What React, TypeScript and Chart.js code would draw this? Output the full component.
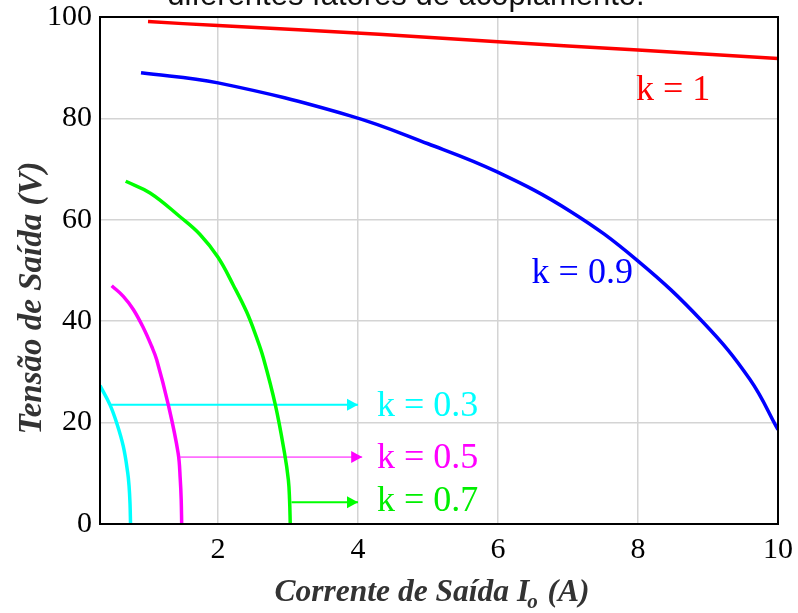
import React, { useEffect, useRef } from "react";
import { Chart, registerables } from "chart.js";
Chart.register(...registerables);

// k = 1
const k1X = [1.0, 2.0, 4.3, 6.0, 8.0, 10.0];
const k1Y = [99.1, 98.3, 96.6, 95.1, 93.5, 91.8];
// k = 0.9
const k09X = [0.9, 2.0, 3.89, 5.0, 5.98, 7.03, 7.98, 8.93, 9.6, 10.0];
const k09Y = [89.0, 87.0, 80.5, 75.0, 69.5, 61.7, 52.1, 39.8, 28.5, 18.6];
// k = 0.7
const k07X = [0.681, 1.029, 1.457, 1.743, 2.0, 2.219, 2.41, 2.553, 2.647, 2.819, 2.95, 3.005, 3.022, 3.032];
const k07Y = [67.6, 65.3, 60.6, 57.1, 52.6, 47.1, 41.8, 36.7, 32.8, 23.5, 14.0, 8.7, 4.8, 0];
// k = 0.5
const k05X = [0.481, 0.647, 0.79, 0.933, 1.053, 1.124, 1.29, 1.43, 1.461, 1.474, 1.481];
const k05Y = [47.0, 44.9, 42.3, 38.7, 35.0, 32.4, 23.5, 14.0, 8.7, 4.8, 0];
// k = 0.3
const k03X = [0.314, 0.457, 0.553, 0.647, 0.71, 0.729, 0.743, 0.75];
const k03Y = [27.3, 23.5, 19.9, 15.3, 10.1, 7.5, 4.0, 0];

// arrows [x0, x1], y
const arrow03 = { x: [0.46, 4.0], y: 23.5 };
const arrow05 = { x: [1.46, 4.06], y: 13.2 };
const arrow07 = { x: [3.05, 4.0], y: 4.3 };

const xTicks = [2, 4, 6, 8, 10];
const X_MIN = 0.314;
const X_MAX = 10;
const Y_MIN = 0;
const Y_MAX = 100;

const labels = [
  { text: "k = 1", x: 7.97, y: 83.7, color: "#ff0000" },
  { text: "k = 0.9", x: 6.48, y: 47.5, color: "#0000ff" },
  { text: "k = 0.3", x: 4.27, y: 21.4, color: "#00ffff" },
  { text: "k = 0.5", x: 4.27, y: 11.0, color: "#ff00ff" },
  { text: "k = 0.7", x: 4.27, y: 2.5, color: "#00ee00" },
];

const TITLE = "diferentes fatores de acoplamento.";
const Y_TITLE = "Tensão de Saída (V)";
const X_TITLE_A = "Corrente de Saída I";
const X_TITLE_SUB = "o";
const X_TITLE_B = " (A)";

const SERIF = "'Liberation Serif', 'DejaVu Serif', serif";
const SANS = "'Liberation Sans', Arial, sans-serif";

function pts(xs: number[], ys: number[]) {
  return xs.map((x, i) => ({ x, y: ys[i] }));
}

const curve = (data: any, color: string) => ({
  data,
  borderColor: color,
  borderWidth: 3.5,
  pointRadius: 0,
  tension: 0.4,
  fill: false,
});

const arrowDs = (a: { x: number[]; y: number }, color: string, w: number) => ({
  data: a.x.map((x) => ({ x, y: a.y })),
  borderColor: color,
  backgroundColor: color,
  borderWidth: w,
  pointRadius: 0,
  tension: 0,
  fill: false,
  arrow: true,
});

const decorPlugin = {
  id: "decor",
  afterDatasetsDraw(chart: any) {
    const { ctx, chartArea: ca, scales } = chart;
    const xs = scales.x;
    const ys = scales.y;
    ctx.save();
    // arrowheads
    chart.data.datasets.forEach((ds: any, i: number) => {
      if (!ds.arrow) return;
      const meta = chart.getDatasetMeta(i);
      const last = meta.data[meta.data.length - 1];
      const tx = last.x;
      const ty = last.y;
      const L = 11;
      const H = 6;
      ctx.fillStyle = ds.borderColor;
      ctx.beginPath();
      ctx.moveTo(tx, ty);
      ctx.lineTo(tx - L, ty - H);
      ctx.lineTo(tx - L, ty + H);
      ctx.closePath();
      ctx.fill();
    });
    // box
    ctx.strokeStyle = "#000";
    ctx.lineWidth = 2;
    ctx.strokeRect(ca.left, ca.top, ca.right - ca.left, ca.bottom - ca.top);
    // labels
    ctx.font = `36px ${SERIF}`;
    ctx.textAlign = "left";
    ctx.textBaseline = "alphabetic";
    labels.forEach((l) => {
      ctx.fillStyle = l.color;
      ctx.fillText(l.text, xs.getPixelForValue(l.x), ys.getPixelForValue(l.y));
    });
    ctx.restore();
  },
  afterDraw(chart: any) {
    const { ctx } = chart;
    ctx.save();
    // top title (cropped)
    ctx.fillStyle = "#111";
    ctx.font = `31px ${SANS}`;
    ctx.textAlign = "center";
    ctx.textBaseline = "alphabetic";
    ctx.fillText(TITLE, 406, 5);
    // y title
    ctx.fillStyle = "#333";
    ctx.font = `bold italic 33px ${SERIF}`;
    ctx.translate(41, 298);
    ctx.rotate(-Math.PI / 2);
    ctx.textAlign = "center";
    ctx.fillText(Y_TITLE, 0, 0);
    ctx.restore();
    // x title
    ctx.save();
    ctx.fillStyle = "#333";
    const mainFont = `bold italic 31.5px ${SERIF}`;
    const subFont = `bold italic 21px ${SERIF}`;
    ctx.font = mainFont;
    const wa = ctx.measureText(X_TITLE_A).width;
    const wb = ctx.measureText(X_TITLE_B).width;
    ctx.font = subFont;
    const ws = ctx.measureText(X_TITLE_SUB).width;
    const total = wa + ws + wb;
    const cx = 432;
    const by = 601;
    let x = cx - total / 2;
    ctx.textAlign = "left";
    ctx.textBaseline = "alphabetic";
    ctx.font = mainFont;
    ctx.fillText(X_TITLE_A, x, by);
    x += wa;
    ctx.font = subFont;
    ctx.fillText(X_TITLE_SUB, x - 2, by + 7);
    x += ws;
    ctx.font = mainFont;
    ctx.fillText(X_TITLE_B, x, by);
    ctx.restore();
  },
};

export default function App() {
  const ref = useRef<HTMLCanvasElement | null>(null);
  useEffect(() => {
    document.body.style.margin = "0";
    const canvas = ref.current!;
    const chart = new Chart(canvas, {
      type: "line",
      data: {
        datasets: [
          curve(pts(k1X, k1Y), "#ff0000"),
          curve(pts(k09X, k09Y), "#0000ff"),
          curve(pts(k07X, k07Y), "#00ff00"),
          curve(pts(k05X, k05Y), "#ff00ff"),
          curve(pts(k03X, k03Y), "#00ffff"),
          arrowDs(arrow03, "#00ffff", 2),
          arrowDs(arrow05, "#ff00ff", 1),
          arrowDs(arrow07, "#00ff00", 2),
        ] as any,
      },
      options: {
        animation: false,
        responsive: false,
        maintainAspectRatio: false,
        layout: { padding: { top: 17, right: 20, left: 0, bottom: 0 } },
        plugins: {
          legend: { display: false },
          tooltip: { enabled: false },
          title: { display: false },
        },
        scales: {
          x: {
            type: "linear",
            min: X_MIN,
            max: X_MAX,
            afterBuildTicks: (s: any) => {
              s.ticks = xTicks.map((v) => ({ value: v }));
            },
            afterFit: (s: any) => {
              s.height = 89;
              s.paddingLeft = 0;
              s.paddingRight = 0;
            },
            grid: { color: "#d4d4d4", lineWidth: 1.5, drawTicks: false },
            border: { color: "#000", width: 2 },
            ticks: {
              color: "#000",
              font: { family: SERIF, size: 30 },
              padding: 8,
              maxRotation: 0,
              autoSkip: false,
            },
          },
          y: {
            type: "linear",
            min: Y_MIN,
            max: Y_MAX,
            afterFit: (s: any) => {
              s.width = 100;
              s.paddingTop = 0;
              s.paddingBottom = 0;
            },
            grid: { color: "#d4d4d4", lineWidth: 1.5, drawTicks: false },
            border: { color: "#000", width: 2 },
            ticks: {
              stepSize: 20,
              color: "#000",
              font: { family: SERIF, size: 30 },
              padding: 8,
            },
          },
        },
      },
      plugins: [decorPlugin],
    });
    return () => chart.destroy();
  }, []);
  return (
    <div style={{ position: "absolute", left: 0, top: 0, width: 798, height: 613 }}>
      <canvas ref={ref} width={798} height={613} style={{ width: 798, height: 613 }} />
    </div>
  );
}
